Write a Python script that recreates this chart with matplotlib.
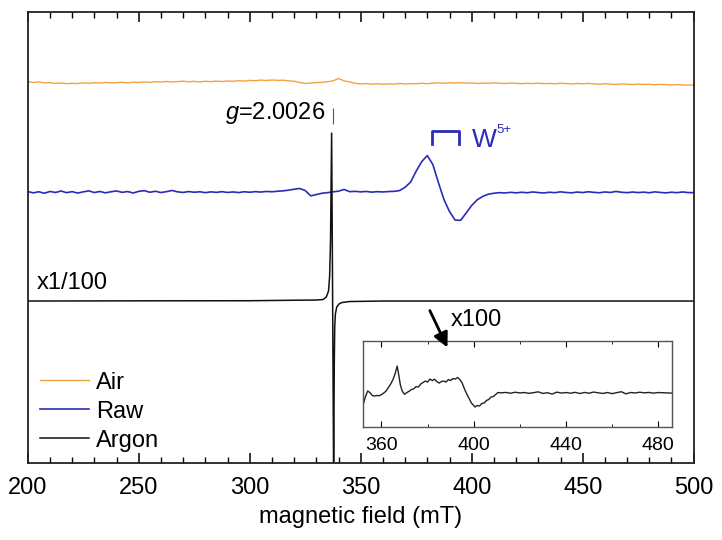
import numpy as np
import matplotlib
matplotlib.use("Agg")
import matplotlib.pyplot as plt
from matplotlib.ticker import MultipleLocator

plt.rcParams['font.family'] = ['Liberation Sans', 'DejaVu Sans']
plt.rcParams['mathtext.fontset'] = 'custom'
plt.rcParams['mathtext.rm'] = 'Liberation Sans'
plt.rcParams['mathtext.it'] = 'Liberation Sans:italic'

# --- donnees (unites arbitraires) ---
field_grid = np.arange(200, 500.1, 2.5)   # mT, pas de 2.5 mT

air = [
    0.3, -0.4, 0.2, -0.8, -0.6, -1.3, -0.9, -1.6, -1.2, -1.5,
    -0.8, -1.2, -0.6, -1.0, -0.4, -0.9, -0.5, -0.2, -0.7, -0.1,
    -0.4, 0.2, -0.3, 0.4, 0.0, 0.6, 0.1, 0.5, 0.9, 0.3,
    0.7, 0.2, 0.8, 0.4, 1.0, 0.5, 1.1, 0.8, 1.4, 1.0,
    1.7, 1.4, 2.0, 1.6, 2.1, 1.7, 1.9, 1.2, 0.8, -0.4,
    -1.4, -1.0, -0.6, -0.2, 0.3, 1.2, 3.6, 1.2, 0.2, -1.2,
    -1.8, -1.5, -2.1, -1.7, -2.2, -1.8, -2.0, -1.4, -1.9, -1.5,
    -1.7, -1.2, -1.6, -1.1, -0.8, -1.2, -0.7, -1.0, -0.6, -1.1,
    -0.9, -1.4, -1.0, -1.3, -0.8, -1.2, -1.4, -1.0, -1.3, -1.6,
    -1.2, -1.5, -1.1, -1.6, -1.3, -1.7, -1.2, -1.5, -1.9, -1.4,
    -1.7, -1.3, -1.8, -2.2, -1.6, -2.0, -2.4, -1.9, -2.1, -2.5,
    -2.0, -2.4, -2.2, -2.7, -2.3, -2.6, -2.9, -2.5, -2.8, -3.1,
    -2.7,
]

raw = [
    0.5, -0.8, 0.3, -1.2, 0.6, -0.4, 1.0, -0.6, 0.4, -1.0,
    0.2, 1.2, -0.5, 0.6, -0.8, 0.3, 1.1, -0.3, 0.5, -0.9,
    0.7, 1.4, -0.2, 0.8, -0.5, 0.4, 1.6, 0.2, -0.4, 0.5,
    -0.2, 0.3, -0.6, 0.2, -0.3, 0.4, -0.4, 0.1, -0.5, 0.3,
    -0.2, 0.4, 0.0, 0.6, 0.3, 0.8, 1.2, 1.9, 2.8, 3.6,
    1.5, -3.8, -2.5, -1.2, -0.6, 0.2, 0.9, 2.6, 0.4, 0.7,
    0.2, 0.6, -0.1, 0.4, 0.1, 0.5, 0.7, 1.5, 4.8, 10.0,
    21.0, 30.5, 36.5, 27.5, 9.5, -7.5, -19.5, -28.0, -28.3, -21.0,
    -13.4, -7.7, -4.3, -2.1, -1.2, -0.6, -0.9, -0.3, -0.8, -0.2,
    -0.7, 0.1, -0.5, -0.9, -0.2, -0.6, 0.2, -0.4, -0.8, 0.0,
    -0.5, 0.3, -0.3, -0.7, 0.1, -0.4, 0.6, -0.2, -0.6, 0.0,
    -0.5, -0.1, -0.7, 0.2, -0.4, -0.8, -0.2, -0.6, 0.1, -0.5,
    -0.6,
]

argon_field = [200, 250, 300, 320, 330, 333, 334.5, 335.5, 336.0, 336.4,
               336.9, 337.3, 337.8, 338.1, 338.3, 338.6, 339.2, 340.2,
               341.5, 345, 360, 500]
argon = [0.0, 0.2, 0.3, 0.8, 1.0, 1.5, 4.0, 10.0, 25.0, 60.0,
         168.0, 20.0, -175.0, -60.0, -25.0, -13.0, -6.0, -3.0,
         -1.5, -0.5, 0.0, 0.0]

# Argon x100, zone 352-486 mT (encart)
inset_field = [352, 353, 354, 355, 356, 357, 358, 359, 360, 361,
               362, 363, 364, 365, 366, 366.8, 367.5, 368.2, 369, 370,
               371, 372, 373, 374, 375, 376, 377, 378, 379, 380,
               381, 382, 383, 384, 385, 386, 387, 388, 389, 390,
               391, 392, 393, 394, 395, 396, 397, 398, 399, 400,
               400.6, 401.5, 402.5, 403.5, 404.5, 405.5, 406.5, 407.5, 408.5, 409.5,
               410.5, 412, 414, 416, 418, 420, 422, 424, 426, 428,
               430, 432, 434, 436, 438, 440, 442, 444, 446, 448,
               450, 452, 454, 456, 458, 460, 462, 464, 466, 468,
               470, 472, 474, 476, 478, 480, 482, 484, 486]
inset_argon = [-12, -4, 2, 0.5, -2.5, -3, -2.4, -2.8, -1.5, 0,
               2, 5.5, 9, 13.5, 20, 27, 18, 8, 2, -1.3,
               0.5, 1.8, 3.5, 4.2, 6.5, 6.0, 9, 10.5, 12, 11,
               14, 12.5, 13.8, 11.5, 10, 11.5, 12, 11, 13.5, 12.5,
               14.5, 14, 15.5, 13.5, 10, 4, -1, -5.5, -10, -12.5,
               -14, -12.5, -13, -10.5, -10, -7.5, -6.5, -4, -3.5, -1.5,
               0.5, 0.2, 0.6, -0.2, 0.8, 0.1, 0.5, -0.3, 0.4, 1.2,
               -0.4, 0.3, -1.0, 0.9, 0.0, 0.5, -0.2, 0.7, -0.5, 0.6,
               -0.2, 1.0, 0.2, -0.4, 0.5, -0.6, 0.4, 1.3, -0.8, 0.5,
               0.1, 0.8, 0.2, 0.6, -0.1, 0.5, 0.3, 0.1, -0.1]

labels = ['Air', 'Raw', 'Argon']
offsets = [219, 109, 0]

g_field = 337.5
w5_bracket = (382.3, 394.2)

COL_AIR = '#F4A340'
COL_RAW = '#2B2BB8'
COL_ARGON = '#111111'
FS = 17

fig = plt.figure(figsize=(7.22, 5.40), dpi=100)
ax = fig.add_axes([0.0384, 0.1426, 0.9224, 0.835])
axins = fig.add_axes([0.5028, 0.2093, 0.428, 0.159])
ax.set_facecolor('none')
axins.set_facecolor('none')
ax.set_zorder(2)
axins.set_zorder(1)

ax.plot(field_grid, np.array(air) + offsets[0], color=COL_AIR, lw=1.0, label=labels[0])
ax.plot(field_grid, np.array(raw) + offsets[1], color=COL_RAW, lw=1.2, label=labels[1])
ax.plot(argon_field, np.array(argon) + offsets[2], color=COL_ARGON, lw=1.1, label=labels[2])

ax.set_xlim(200, 500)
ax.set_ylim(-162, 289)
ax.xaxis.set_major_locator(MultipleLocator(50))
ax.xaxis.set_minor_locator(MultipleLocator(10))
ax.set_yticks([])
ax.tick_params(axis='x', which='both', direction='in', top=True, bottom=True,
               labelsize=FS, pad=10)
ax.tick_params(axis='x', which='major', length=7, width=1.1)
ax.tick_params(axis='x', which='minor', length=4, width=1.0)
for s in ax.spines.values():
    s.set_linewidth(1.3)
    s.set_color('#222222')
ax.set_xlabel('magnetic field (mT)', fontsize=FS, labelpad=5)

# annotations
ax.vlines(g_field, 177, 193, color='#555555', lw=0.8)
ax.text(333.8, 188, r'$g$=2.0026', fontsize=FS, ha='right', va='center')
ax.plot([w5_bracket[0], w5_bracket[0], w5_bracket[1], w5_bracket[1]],
        [157, 170, 170, 157], color=COL_RAW, lw=2)
ax.text(400.0, 161, 'W', fontsize=19, color=COL_RAW, ha='left', va='center')
ax.text(411.0, 171, '5+', fontsize=9.5, color=COL_RAW, ha='left', va='center')
ax.text(204.2, 18, 'x1/100', fontsize=FS, ha='left', va='center')
ax.text(390.7, -19, 'x100', fontsize=FS, ha='left', va='center')
ax.annotate('', xy=(389.6, -49), xytext=(380.6, -7),
            arrowprops=dict(arrowstyle='-|>', color='black', lw=2, mutation_scale=22))

ax.legend(loc='lower left', bbox_to_anchor=(0.018, 0.025), frameon=False,
          fontsize=FS, handlelength=2.1, handletextpad=0.3,
          labelspacing=0.3, borderpad=0, borderaxespad=0)

# encart
axins.plot(inset_field, inset_argon, color='#222222', lw=1.0)
axins.set_xlim(352, 486)
axins.set_ylim(-34, 52)
axins.xaxis.set_major_locator(MultipleLocator(40))
axins.xaxis.set_minor_locator(MultipleLocator(20))
axins.set_yticks([])
axins.tick_params(axis='x', which='both', direction='in', top=True, bottom=True,
                  labelsize=14, pad=7)
axins.tick_params(axis='x', which='major', length=4)
axins.tick_params(axis='x', which='minor', length=2.5)
for s in axins.spines.values():
    s.set_linewidth(1.0)
    s.set_color('#555555')

fig.savefig('out.png', dpi=100, facecolor='white')
